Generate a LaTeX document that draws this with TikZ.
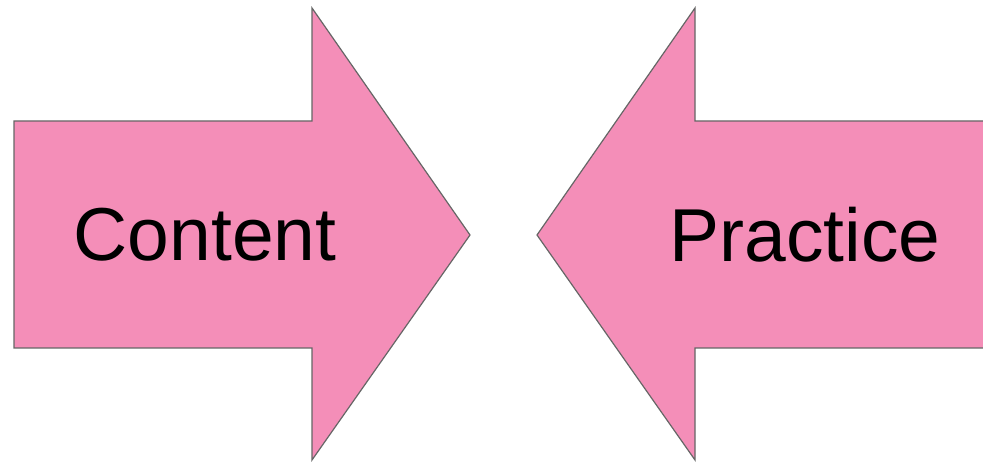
\documentclass[tikz,border=0pt]{standalone}
\usepackage{fontspec}
\setmainfont{Liberation Sans}
\definecolor{arrowpink}{RGB}{244,142,184}

\begin{document}
\begin{tikzpicture}[x=1pt, y=1pt,
    arrowbody/.style={fill=arrowpink, draw=gray!80!black, line width=1.2pt, line join=miter},
    label/.style={font=\fontsize{75}{80}\selectfont, text=black, inner sep=0pt}]
    \useasboundingbox (0,0) rectangle (983,463);
    % left arrow pointing right
    \draw[arrowbody] (14,342) -- (312,342) -- (312,455) -- (470,228)
        -- (312,3) -- (312,115) -- (14,115) -- cycle;
    % right arrow pointing left, cut off at the right edge
    \fill[arrowpink] (983,342) -- (695,342) -- (695,455) -- (537,228)
        -- (695,3) -- (695,115) -- (983,115) -- cycle;
    \draw[arrowbody, fill=none] (983,342) -- (695,342) -- (695,455) -- (537,228)
        -- (695,3) -- (695,115) -- (983,115);
    \node[label] (content) at (205,228) {Content};
    \node[label] (practice) at (805,228) {Practice};
\end{tikzpicture}
\end{document}
